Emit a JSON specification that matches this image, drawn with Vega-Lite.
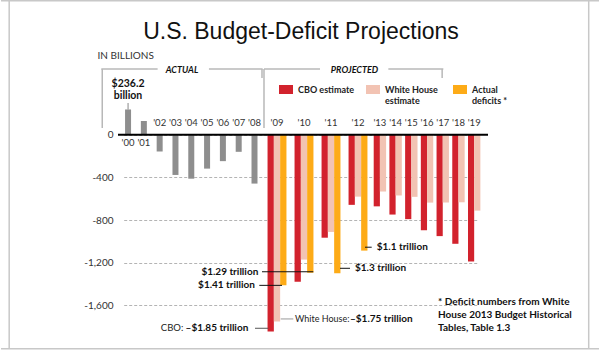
{
  "$schema": "https://vega.github.io/schema/vega-lite/v6.json",
  "width": 370,
  "height": 256,
  "autosize": "none",
  "padding": {"left": 118, "top": 92, "right": 112, "bottom": 2},
  "background": "white",
  "title": {"text": "U.S. Budget-Deficit Projections", "font": "Liberation Sans", "fontSize": 23, "fontWeight": "normal", "color": "#111111", "anchor": "middle", "frame": "group", "offset": -44, "dx": -2},
  "config": {
    "view": {"stroke": null},
    "text": {"font": "Lato, Liberation Sans, sans-serif"},
    "tick": {"opacity": 1}
  },
  "data": {"values": [
    {"year": 2000, "series": "Actual", "value": 236.2},
    {"year": 2001, "series": "Actual", "value": 128.2},
    {"year": 2002, "series": "Actual", "value": -157.8},
    {"year": 2003, "series": "Actual", "value": -377.6},
    {"year": 2004, "series": "Actual", "value": -412.7},
    {"year": 2005, "series": "Actual", "value": -318.3},
    {"year": 2006, "series": "Actual", "value": -248.2},
    {"year": 2007, "series": "Actual", "value": -160.7},
    {"year": 2008, "series": "Actual", "value": -458.6},
    {"year": 2009, "series": "Actual", "value": -1412.7},
    {"year": 2010, "series": "Actual", "value": -1294.4},
    {"year": 2011, "series": "Actual", "value": -1299.6},
    {"year": 2012, "series": "Actual", "value": -1087},
    {"year": 2009, "series": "CBO estimate", "value": -1845},
    {"year": 2010, "series": "CBO estimate", "value": -1379},
    {"year": 2011, "series": "CBO estimate", "value": -966},
    {"year": 2012, "series": "CBO estimate", "value": -658},
    {"year": 2013, "series": "CBO estimate", "value": -672},
    {"year": 2014, "series": "CBO estimate", "value": -749},
    {"year": 2015, "series": "CBO estimate", "value": -792},
    {"year": 2016, "series": "CBO estimate", "value": -896},
    {"year": 2017, "series": "CBO estimate", "value": -951},
    {"year": 2018, "series": "CBO estimate", "value": -1023},
    {"year": 2019, "series": "CBO estimate", "value": -1189},
    {"year": 2009, "series": "White House estimate", "value": -1752},
    {"year": 2010, "series": "White House estimate", "value": -1171},
    {"year": 2011, "series": "White House estimate", "value": -912},
    {"year": 2012, "series": "White House estimate", "value": -581},
    {"year": 2013, "series": "White House estimate", "value": -533},
    {"year": 2014, "series": "White House estimate", "value": -570},
    {"year": 2015, "series": "White House estimate", "value": -583},
    {"year": 2016, "series": "White House estimate", "value": -637},
    {"year": 2017, "series": "White House estimate", "value": -636},
    {"year": 2018, "series": "White House estimate", "value": -634},
    {"year": 2019, "series": "White House estimate", "value": -712}
  ]},
  "layer": [
    {
      "transform": [{"filter": "datum.series == 'Actual' && datum.year <= 2008"}],
      "mark": {"type": "bar", "orient": "vertical", "width": 6, "color": "#8e8e8e"},
      "encoding": {
        "x": {"field": "year", "type": "quantitative", "scale": {"domain": [2000, 2008, 2009, 2012, 2013, 2019], "range": [5.7, 136.5, 159, 240, 261.9, 360.5], "zero": false, "nice": false}, "axis": null},
        "y": {"field": "value", "type": "quantitative", "stack": null, "scale": {"domain": [-2000, 400], "zero": false, "nice": false},
          "axis": {"values": [0, -400, -800, -1200, -1600], "labelExpr": "(datum.value < 0 ? '-' : '') + format(abs(datum.value), ',')", "domain": false, "ticks": false, "tickSize": 0, "labelPadding": 5, "labelFont": "Lato, Liberation Sans, sans-serif", "labelFontSize": 10, "labelColor": "#333333", "grid": true, "gridDash": [3, 2], "gridColor": "#b4b4b4", "gridWidth": 1,
            "title": "IN BILLIONS", "titleAngle": 0, "titleAlign": "left", "titleBaseline": "middle", "titleX": -21, "titleY": -37, "titleFont": "Lato, Liberation Sans, sans-serif", "titleFontSize": 10, "titleFontWeight": "normal", "titleColor": "#333333"}}
      }
    },
    {
      "data": {"values": [{}]},
      "mark": {"type": "tick", "orient": "horizontal", "size": 598, "thickness": 1.5, "color": "#c8c8c8"},
      "encoding": {"x": {"datum": 2009.852, "type": "quantitative"}, "y": {"datum": 1255.5, "type": "quantitative"}}
    },
    {
      "data": {"values": [{}]},
      "mark": {"type": "tick", "orient": "horizontal", "size": 598, "thickness": 1.5, "color": "#c8c8c8"},
      "encoding": {"x": {"datum": 2009.852, "type": "quantitative"}, "y": {"datum": -2007, "type": "quantitative"}}
    },
    {
      "data": {"values": [{}]},
      "mark": {"type": "tick", "orient": "vertical", "size": 348, "thickness": 1.5, "color": "#c8c8c8"},
      "encoding": {"x": {"datum": 1992.48, "type": "quantitative"}, "y": {"datum": -378, "type": "quantitative"}}
    },
    {
      "data": {"values": [{}]},
      "mark": {"type": "tick", "orient": "vertical", "size": 348, "thickness": 1.5, "color": "#c8c8c8"},
      "encoding": {"x": {"datum": 2026.29, "type": "quantitative"}, "y": {"datum": -378, "type": "quantitative"}}
    },
    {
      "data": {"values": [{}]},
      "mark": {"type": "tick", "orient": "vertical", "size": 59, "thickness": 1.5, "color": "#b8b8b8"},
      "encoding": {"x": {"datum": 1998.367, "type": "quantitative"}, "y": {"datum": 339.1, "type": "quantitative"}}
    },
    {
      "data": {"values": [{}]},
      "mark": {"type": "tick", "orient": "horizontal", "size": 56.3, "thickness": 1.5, "color": "#b8b8b8"},
      "encoding": {"x": {"datum": 2000.089, "type": "quantitative"}, "y": {"datum": 615.6, "type": "quantitative"}}
    },
    {
      "data": {"values": [{}]},
      "mark": {"type": "tick", "orient": "horizontal", "size": 53.7, "thickness": 1.5, "color": "#b8b8b8"},
      "encoding": {"x": {"datum": 2006.816, "type": "quantitative"}, "y": {"datum": 615.6, "type": "quantitative"}}
    },
    {
      "data": {"values": [{}]},
      "mark": {"type": "tick", "orient": "vertical", "size": 9, "thickness": 1.5, "color": "#b8b8b8"},
      "encoding": {"x": {"datum": 2008.333, "type": "quantitative"}, "y": {"datum": 573.5, "type": "quantitative"}}
    },
    {
      "data": {"values": [{}]},
      "mark": {"type": "tick", "orient": "vertical", "size": 59, "thickness": 1.5, "color": "#b8b8b8"},
      "encoding": {"x": {"datum": 2008.422, "type": "quantitative"}, "y": {"datum": 339.1, "type": "quantitative"}}
    },
    {
      "data": {"values": [{}]},
      "mark": {"type": "tick", "orient": "horizontal", "size": 56, "thickness": 1.5, "color": "#b8b8b8"},
      "encoding": {"x": {"datum": 2009.556, "type": "quantitative"}, "y": {"datum": 615.6, "type": "quantitative"}}
    },
    {
      "data": {"values": [{}]},
      "mark": {"type": "tick", "orient": "horizontal", "size": 55, "thickness": 1.5, "color": "#b8b8b8"},
      "encoding": {"x": {"datum": 2015.288, "type": "quantitative"}, "y": {"datum": 615.6, "type": "quantitative"}}
    },
    {
      "data": {"values": [{}]},
      "mark": {"type": "tick", "orient": "vertical", "size": 9, "thickness": 1.5, "color": "#b8b8b8"},
      "encoding": {"x": {"datum": 2016.962, "type": "quantitative"}, "y": {"datum": 573.5, "type": "quantitative"}}
    },
    {
      "transform": [{"filter": "datum.series == 'CBO estimate' && datum.year <= 2012"}],
      "mark": {"type": "bar", "orient": "vertical", "width": 6.3, "xOffset": -6.3},
      "encoding": {
        "x": {"field": "year", "type": "quantitative"},
        "y": {"field": "value", "type": "quantitative", "stack": null},
        "color": {"field": "series", "type": "nominal",
          "scale": {"domain": ["CBO estimate", "White House estimate", "Actual"], "range": ["#d2222d", "#f2c3b3", "#fdab17"]},
          "legend": {"title": null, "orient": "none", "legendX": 161, "legendY": -9.5, "direction": "horizontal", "columns": 3, "gridAlign": "all", "columnPadding": 11, "padding": 0,
            "symbolType": "M-1,-0.643H1V0.643H-1Z", "symbolSize": 196, "symbolStrokeWidth": 0, "symbolOpacity": 1,
            "labelFont": "Lato, Liberation Sans, sans-serif", "labelFontSize": 9, "labelFontWeight": "bold", "labelColor": "#222222", "labelOffset": 5,
            "labelExpr": "datum.label == 'White House estimate' ? ['White House', 'estimate'] : datum.label == 'Actual' ? ['Actual', 'deficits *'] : [datum.label, '']"}
        }
      }
    },
    {
      "transform": [{"filter": "datum.series == 'CBO estimate' && datum.year >= 2013"}],
      "mark": {"type": "bar", "orient": "vertical", "width": 6.2, "xOffset": -3.1, "color": "#d2222d"},
      "encoding": {"x": {"field": "year", "type": "quantitative"}, "y": {"field": "value", "type": "quantitative", "stack": null}}
    },
    {
      "transform": [{"filter": "datum.series == 'White House estimate' && datum.year <= 2012"}],
      "mark": {"type": "bar", "orient": "vertical", "width": 6.3},
      "encoding": {
        "x": {"field": "year", "type": "quantitative"},
        "y": {"field": "value", "type": "quantitative", "stack": null},
        "color": {"field": "series", "type": "nominal"}
      }
    },
    {
      "transform": [{"filter": "datum.series == 'White House estimate' && datum.year >= 2013"}],
      "mark": {"type": "bar", "orient": "vertical", "width": 6.2, "xOffset": 3.1, "color": "#f2c3b3"},
      "encoding": {"x": {"field": "year", "type": "quantitative"}, "y": {"field": "value", "type": "quantitative", "stack": null}}
    },
    {
      "transform": [{"filter": "datum.series == 'Actual' && datum.year >= 2009"}],
      "mark": {"type": "bar", "orient": "vertical", "width": 6.3, "xOffset": 6.3},
      "encoding": {
        "x": {"field": "year", "type": "quantitative"},
        "y": {"field": "value", "type": "quantitative", "stack": null},
        "color": {"field": "series", "type": "nominal"}
      }
    },
    {
      "data": {"values": [{}]},
      "mark": {"type": "rule", "color": "#000000", "strokeWidth": 2},
      "encoding": {"y": {"datum": 0, "type": "quantitative"}}
    },
    {
      "transform": [{"filter": "datum.series == 'Actual' && datum.year <= 2001"}, {"calculate": "\"'\" + substring(toString(datum.year), 2)", "as": "label"}],
      "mark": {"type": "text", "fontSize": 9.5, "color": "#333333", "baseline": "middle", "dy": 8.5},
      "encoding": {"x": {"field": "year", "type": "quantitative"}, "y": {"datum": 0, "type": "quantitative"}, "text": {"field": "label"}}
    },
    {
      "transform": [{"filter": "(datum.series == 'Actual' && datum.year >= 2002 && datum.year <= 2008) || datum.series == 'CBO estimate'"}, {"calculate": "\"'\" + substring(toString(datum.year), 2)", "as": "label"}],
      "mark": {"type": "text", "fontSize": 9.5, "color": "#333333", "baseline": "middle", "dy": -12},
      "encoding": {"x": {"field": "year", "type": "quantitative"}, "y": {"datum": 0, "type": "quantitative"}, "text": {"field": "label"}}
    },
    {
      "data": {"values": [{}]},
      "mark": {"type": "text", "text": "ACTUAL", "fontSize": 9, "fontWeight": "bold", "fontStyle": "italic", "color": "#111111", "baseline": "middle", "dy": 1},
      "encoding": {"x": {"datum": 2003.413, "type": "quantitative"}, "y": {"datum": 615.6, "type": "quantitative"}}
    },
    {
      "data": {"values": [{}]},
      "mark": {"type": "text", "text": "PROJECTED", "fontSize": 9, "fontWeight": "bold", "fontStyle": "italic", "color": "#111111", "baseline": "middle", "dy": 1},
      "encoding": {"x": {"datum": 2011.87, "type": "quantitative"}, "y": {"datum": 615.6, "type": "quantitative"}}
    },
    {
      "data": {"values": [{}]},
      "mark": {"type": "tick", "orient": "vertical", "size": 6.5, "thickness": 1, "color": "#888888", "yOffset": -3.25},
      "encoding": {"x": {"datum": 2000, "type": "quantitative"}, "y": {"datum": 236.2, "type": "quantitative"}}
    },
    {
      "data": {"values": [{}]},
      "mark": {"type": "text", "text": ["$236.2", "billion"], "fontSize": 10.5, "fontWeight": "bold", "color": "#111111", "baseline": "top", "align": "center", "lineHeight": 12, "dy": -30.5},
      "encoding": {"x": {"datum": 2000, "type": "quantitative"}, "y": {"datum": 236.2, "type": "quantitative"}}
    },
    {
      "data": {"values": [{}]},
      "mark": {"type": "tick", "orient": "horizontal", "size": 22.7, "thickness": 1, "color": "#111111", "xOffset": -6.35},
      "encoding": {"x": {"datum": 2009, "type": "quantitative"}, "y": {"datum": -1412.7, "type": "quantitative"}}
    },
    {
      "data": {"values": [{}]},
      "mark": {"type": "text", "text": "$1.41 trillion", "fontSize": 10, "fontWeight": "bold", "color": "#111111", "baseline": "middle", "align": "right", "dx": -22, "dy": -0.5},
      "encoding": {"x": {"datum": 2009, "type": "quantitative"}, "y": {"datum": -1412.7, "type": "quantitative"}}
    },
    {
      "data": {"values": [{}]},
      "mark": {"type": "tick", "orient": "horizontal", "size": 51.3, "thickness": 1, "color": "#111111", "xOffset": -16.35, "yOffset": -1},
      "encoding": {"x": {"datum": 2010, "type": "quantitative"}, "y": {"datum": -1294.4, "type": "quantitative"}}
    },
    {
      "data": {"values": [{}]},
      "mark": {"type": "text", "text": "$1.29 trillion", "fontSize": 10, "fontWeight": "bold", "color": "#111111", "baseline": "middle", "align": "right", "dx": -45.7, "dy": -1},
      "encoding": {"x": {"datum": 2010, "type": "quantitative"}, "y": {"datum": -1294.4, "type": "quantitative"}}
    },
    {
      "data": {"values": [{}]},
      "mark": {"type": "tick", "orient": "horizontal", "size": 10, "thickness": 1, "color": "#111111", "xOffset": 14, "yOffset": -5},
      "encoding": {"x": {"datum": 2011, "type": "quantitative"}, "y": {"datum": -1299.6, "type": "quantitative"}}
    },
    {
      "data": {"values": [{}]},
      "mark": {"type": "text", "text": "$1.3 trillion", "fontSize": 10, "fontWeight": "bold", "color": "#111111", "baseline": "middle", "align": "left", "dx": 24, "dy": -5},
      "encoding": {"x": {"datum": 2011, "type": "quantitative"}, "y": {"datum": -1299.6, "type": "quantitative"}}
    },
    {
      "data": {"values": [{}]},
      "mark": {"type": "tick", "orient": "horizontal", "size": 6.7, "thickness": 1, "color": "#111111", "xOffset": 10.35, "yOffset": -3.4},
      "encoding": {"x": {"datum": 2012, "type": "quantitative"}, "y": {"datum": -1087, "type": "quantitative"}}
    },
    {
      "data": {"values": [{}]},
      "mark": {"type": "text", "text": "$1.1 trillion", "fontSize": 10, "fontWeight": "bold", "color": "#111111", "baseline": "middle", "align": "left", "dx": 18.7, "dy": -3.4},
      "encoding": {"x": {"datum": 2012, "type": "quantitative"}, "y": {"datum": -1087, "type": "quantitative"}}
    },
    {
      "data": {"values": [{}]},
      "mark": {"type": "tick", "orient": "horizontal", "size": 13.3, "thickness": 1, "color": "#555555", "xOffset": -15.35, "yOffset": -3.2},
      "encoding": {"x": {"datum": 2009, "type": "quantitative"}, "y": {"datum": -1845, "type": "quantitative"}}
    },
    {
      "data": {"values": [{}]},
      "mark": {"type": "text", "text": "–$1.85 trillion", "fontSize": 10, "fontWeight": "bold", "color": "#111111", "baseline": "middle", "align": "right", "dx": -28.7, "dy": -3.2},
      "encoding": {"x": {"datum": 2009, "type": "quantitative"}, "y": {"datum": -1845, "type": "quantitative"}}
    },
    {
      "data": {"values": [{}]},
      "mark": {"type": "text", "text": "CBO:", "fontSize": 9.5, "fontWeight": "normal", "color": "#222222", "baseline": "middle", "align": "right", "dx": -93.7, "dy": -3.2},
      "encoding": {"x": {"datum": 2009, "type": "quantitative"}, "y": {"datum": -1845, "type": "quantitative"}}
    },
    {
      "data": {"values": [{}]},
      "mark": {"type": "tick", "orient": "horizontal", "size": 12.6, "thickness": 1, "color": "#999999", "xOffset": 10, "yOffset": -2.6},
      "encoding": {"x": {"datum": 2009, "type": "quantitative"}, "y": {"datum": -1752, "type": "quantitative"}}
    },
    {
      "data": {"values": [{}]},
      "mark": {"type": "text", "text": "White House:", "fontSize": 9, "fontWeight": "normal", "color": "#222222", "baseline": "middle", "align": "left", "dx": 18, "dy": -2.6},
      "encoding": {"x": {"datum": 2009, "type": "quantitative"}, "y": {"datum": -1752, "type": "quantitative"}}
    },
    {
      "data": {"values": [{}]},
      "mark": {"type": "text", "text": "–$1.75 trillion", "fontSize": 10, "fontWeight": "bold", "color": "#111111", "baseline": "middle", "align": "left", "dx": 73, "dy": -2.6},
      "encoding": {"x": {"datum": 2009, "type": "quantitative"}, "y": {"datum": -1752, "type": "quantitative"}}
    },
    {
      "data": {"values": [{}]},
      "mark": {"type": "text", "text": ["* Deficit numbers from White", "House 2013 Budget Historical", "Tables, Table 1.3"], "fontSize": 10, "fontWeight": "bold", "color": "#111111", "baseline": "top", "align": "left", "lineHeight": 13.3},
      "encoding": {"x": {"datum": 2016.7, "type": "quantitative"}, "y": {"datum": -1518, "type": "quantitative"}}
    }
  ]
}
